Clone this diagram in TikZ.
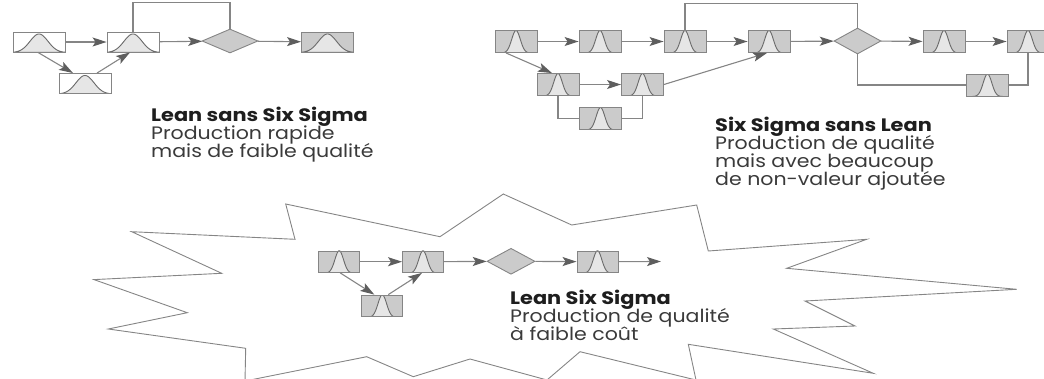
\documentclass[tikz,border=0pt]{standalone}
\usepackage{fontspec}
\setmainfont{Poppins}
\newfontfamily\widebody[FakeStretch=1.14]{Poppins}
\newfontfamily\wideheading[FakeStretch=1.16]{Poppins}
\usetikzlibrary{arrows.meta,shapes.geometric}

\definecolor{edgegray}{HTML}{858585}
\definecolor{boxgray}{HTML}{CBCBCB}
\definecolor{bellgray}{HTML}{E6E6E6}
\definecolor{curvegray}{HTML}{6A6A6A}
\definecolor{headgray}{HTML}{5E5E5E}
\definecolor{headtext}{HTML}{1E1E1E}
\definecolor{bodytext}{HTML}{3A3A3A}

\tikzset{
  % narrow normal curve inside a 42 x 22 process box
  narrowbell/.style={path picture={
    \begin{scope}[shift={(path picture bounding box.center)}]
      \filldraw[fill=bellgray, draw=curvegray, line width=0.9pt]
        plot[domain=-22:22, samples=80, smooth] (\x, {11.5 - 22.5*exp(-0.5*(\x/4.3)^2)}) -- cycle;
    \end{scope}}},
  % wide normal curve inside a 52 x 20 process box
  widebell/.style={path picture={
    \begin{scope}[shift={(path picture bounding box.center)}]
      \filldraw[fill=bellgray, draw=curvegray, line width=0.9pt]
        plot[domain=-27:27, samples=80, smooth] (\x, {10.5 - 18.5*exp(-0.5*(\x/9)^2)}) -- cycle;
    \end{scope}}},
  procbox/.style={rectangle, draw=edgegray, line width=0.9pt, fill=boxgray,
    minimum width=42pt, minimum height=22pt, inner sep=0pt, narrowbell},
  leanbox/.style={rectangle, draw=edgegray, line width=0.9pt, fill=white,
    minimum width=52pt, minimum height=20pt, inner sep=0pt, widebell},
  decision/.style={diamond, draw=edgegray, line width=0.9pt, fill=boxgray, inner sep=0pt},
  flow/.style={draw=edgegray, line width=1.1pt,
    -{Stealth[length=14pt, width=9pt, inset=3pt, color=headgray]}},
  loopline/.style={draw=edgegray, line width=1.1pt},
  burst/.style={draw=edgegray, line width=0.9pt, line join=miter},
  heading/.style={anchor=base west, inner sep=0pt, text=headtext,
    font=\wideheading\fontsize{18}{18}\selectfont\bfseries},
  body/.style={anchor=base west, inner sep=0pt, text=bodytext,
    font=\widebody\fontsize{18}{18}\selectfont},
}

\begin{document}
\begin{tikzpicture}[x=1pt, y=-1pt]
  \useasboundingbox (0,0) rectangle (1044,378);
  \clip (0,0) rectangle (1044,378);

  % ---------- starburst outline ----------
  \draw[burst] (131.7,231.7) -- (295,239.3) -- (285.7,204) -- (440,236.7)
    -- (503.3,194) -- (571.7,225) -- (696.7,205) -- (708.3,251)
    -- (866.7,239.3) -- (786.7,268.3) -- (1016.7,289.3) -- (805,301)
    -- (855,326) -- (773.3,329) -- (873.3,373.3) -- (688.3,344.3)
    -- (696,380) -- (580,351.7) -- (547,380) -- (470,359)
    -- (413.3,376.7) -- (366.7,356.7) -- (245,381) -- (245.7,348.3)
    -- (108.3,329) -- (187.3,312.7) -- (94,279.6) -- (221.7,273.3) -- cycle;

  % ---------- Lean sans Six Sigma ----------
  \node[leanbox] (l1) at (39,42) {};
  \node[leanbox] (l2) at (133,42) {};
  \node[leanbox] (l3) at (85,83.5) {};
  \node[decision, minimum width=56pt, minimum height=24pt] (ld) at (230,41) {};
  \node[leanbox, fill=boxgray] (l4) at (327.5,42) {};

  \draw[loopline] (l2.north) -- ++(0,-29) -| (ld.north);
  \draw[flow] (l1) -- (l2);
  \draw[flow] (l2) -- (ld);
  \draw[flow] (ld) -- (l4);
  \draw[flow] ([xshift=-1pt]l1.south) -- ([xshift=-12pt]l3.north);
  \draw[flow] ([xshift=12pt]l3.north) -- ([xshift=-3pt]l2.south);

  \node[heading] (lt1) at (151,121.5) {Lean sans Six Sigma};
  \node[body] (lt2) at (151,139.5) {Production rapide};
  \node[body] (lt3) at (151,157.5) {mais de faible qualité};

  % ---------- Six Sigma sans Lean ----------
  \node[procbox] (a) at (516,41.5) {};
  \node[procbox] (b) at (600,41.5) {};
  \node[procbox] (c) at (685,41.5) {};
  \node[procbox] (d) at (769,41.5) {};
  \node[decision, minimum width=47pt, minimum height=26pt] (rd) at (857.5,41) {};
  \node[procbox] (e) at (944,41.5) {};
  \node[procbox] (f) at (1028,41.5) {};
  \node[procbox] (g) at (558,84.5) {};
  \node[procbox] (h) at (642.5,84.5) {};
  \node[procbox] (i) at (600.5,118.5) {};
  \node[procbox] (j) at (987.5,85) {};

  \draw[loopline] (c.north) -- ++(0,-27) -| (rd.north);
  \draw[loopline] (rd.south) |- (j.west);
  \draw[loopline] (j.east) -| (f.south);
  \draw[loopline] (g.south) |- (i.west);
  \draw[loopline] (i.east) -| (h.south);
  \draw[flow] (a) -- (b);
  \draw[flow] (b) -- (c);
  \draw[flow] (c) -- (d);
  \draw[flow] (d) -- (rd);
  \draw[flow] (rd) -- (e);
  \draw[flow] (e) -- (f);
  \draw[flow] (g) -- (h);
  \draw[flow] ([xshift=-10pt]a.south) -- ([xshift=-6pt]g.north);
  \draw[flow] (h.east) -- ([xshift=-2pt]d.south);

  \node[heading] (rt1) at (715,131) {Six Sigma sans Lean};
  \node[body] (rt2) at (715,149) {Production de qualité};
  \node[body] (rt3) at (715,167) {mais avec beaucoup};
  \node[body] (rt4) at (715,185) {de non-valeur ajoutée};

  % ---------- Lean Six Sigma ----------
  \node[procbox, minimum width=41pt, minimum height=21.5pt] (m1) at (339.2,261.7) {};
  \node[procbox, minimum width=41pt, minimum height=21.5pt] (m2) at (423,261.7) {};
  \node[procbox, minimum width=41pt, minimum height=21.5pt] (m3) at (382.3,305.8) {};
  \node[decision, minimum width=48pt, minimum height=26pt] (md) at (511,261.3) {};
  \node[procbox, minimum width=41pt, minimum height=21.5pt] (m4) at (597.5,261.7) {};
  \coordinate (mout) at (661,261.5);

  \draw[flow] (m1) -- (m2);
  \draw[flow] (m2) -- (md);
  \draw[flow] (md) -- (m4);
  \draw[flow] (m4) -- (mout);
  \draw[flow] ([xshift=1pt]m1.south) -- ([xshift=-8pt]m3.north);
  \draw[flow] ([xshift=6pt]m3.north) -- ([xshift=-1pt]m2.south);

  \node[heading] (mt1) at (510,304) {Lean Six Sigma};
  \node[body] (mt2) at (510,322) {Production de qualité};
  \node[body] (mt3) at (510,340) {à faible coût};
\end{tikzpicture}
\end{document}
